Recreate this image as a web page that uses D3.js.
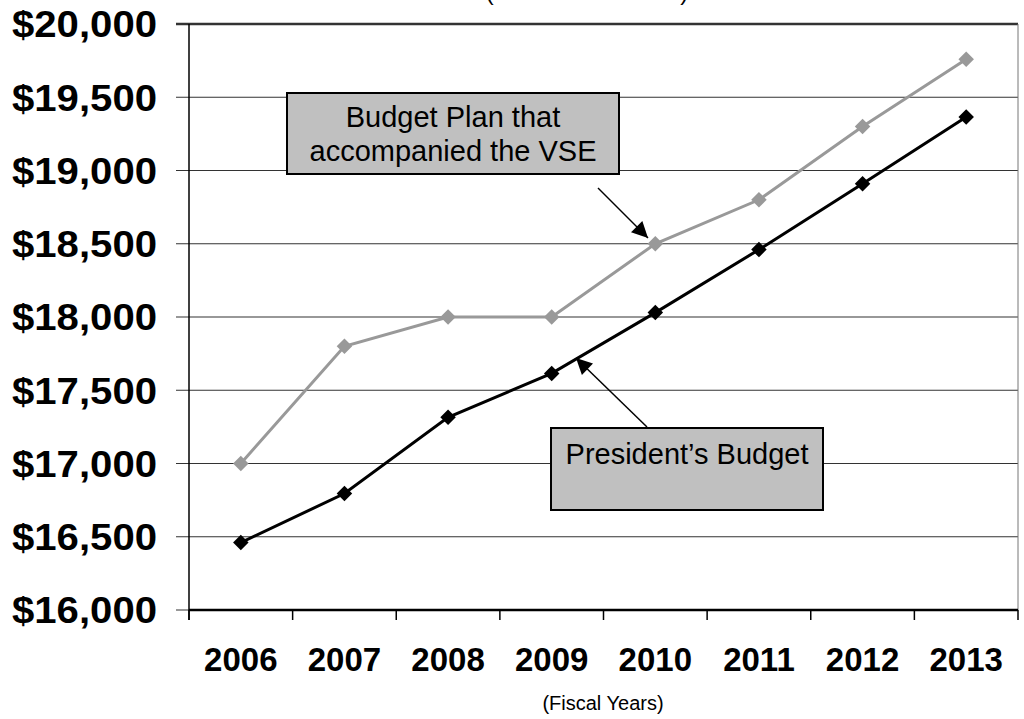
<!DOCTYPE html>
<html>
<head>
<meta charset="utf-8">
<script src="https://cdn.jsdelivr.net/npm/d3@7"></script>
<style>
  body { margin: 0; background: #fff; }
  text { font-family: "Liberation Sans", Arial, sans-serif; }
</style>
</head>
<body>
<div class="container"></div>
<script>
const years = ["2006", "2007", "2008", "2009", "2010", "2011", "2012", "2013"];
const presidentsBudget = [16460, 16795, 17315, 17615, 18030, 18460, 18910, 19365];
const vsePlan = [17000, 17800, 18000, 18000, 18500, 18800, 19300, 19760];
const yTicks = [16000, 16500, 17000, 17500, 18000, 18500, 19000, 19500, 20000];

const width = 1024;
const height = 719;
const margin = { top: 24, right: 6, bottom: 109, left: 189 };

const svg = d3.select(".container")
  .append("svg")
  .attr("width", width)
  .attr("height", height);

const x = d3.scaleBand()
  .domain(years)
  .range([margin.left, width - margin.right]);

const y = d3.scaleLinear()
  .domain([16000, 20000])
  .range([height - margin.bottom, margin.top]);

// units line, cut off at the top edge as in the original
svg.append("text")
  .attr("x", 587)
  .attr("y", 0)
  .attr("text-anchor", "middle")
  .attr("font-size", 24)
  .text("(Dollars in Millions)");

// gridlines + left ticks
svg.append("g")
  .selectAll("line")
  .data(yTicks)
  .join("line")
  .attr("x1", margin.left - 13)
  .attr("x2", width - margin.right)
  .attr("y1", d => y(d))
  .attr("y2", d => y(d))
  .attr("stroke", "#333")
  .attr("stroke-width", d => d === 20000 ? 2.5 : 1.2);

// right border
svg.append("line")
  .attr("x1", width - margin.right).attr("x2", width - margin.right)
  .attr("y1", y(20000)).attr("y2", y(16000))
  .attr("stroke", "#777").attr("stroke-width", 1);

// y labels
svg.append("g")
  .selectAll("text")
  .data(yTicks)
  .join("text")
  .attr("x", 157)
  .attr("y", d => y(d))
  .attr("dy", "0.36em")
  .attr("text-anchor", "end")
  .attr("font-size", 37)
  .attr("font-weight", "bold")
  .attr("textLength", 145)
  .attr("lengthAdjust", "spacingAndGlyphs")
  .text(d => "$" + d3.format(",")(d));

// x axis
const xAxis = svg.append("g")
  .attr("transform", `translate(0,${y(16000)})`);
xAxis.append("line")
  .attr("x1", margin.left).attr("x2", width - margin.right)
  .attr("stroke", "#000").attr("stroke-width", 2.5);
xAxis.selectAll(".tk")
  .data(years.map(d => x(d)).concat([width - margin.right]))
  .join("line")
  .attr("class", "tk")
  .attr("x1", d => d).attr("x2", d => d)
  .attr("y1", 0).attr("y2", 10)
  .attr("stroke", "#000").attr("stroke-width", 1.5);
xAxis.selectAll("text")
  .data(years)
  .join("text")
  .attr("x", d => x(d) + x.bandwidth() / 2)
  .attr("y", 61)
  .attr("text-anchor", "middle")
  .attr("font-size", 33)
  .attr("font-weight", "bold")
  .text(d => d);

// y axis line
svg.append("line")
  .attr("x1", margin.left).attr("x2", margin.left)
  .attr("y1", y(20000)).attr("y2", y(16000) + 10)
  .attr("stroke", "#000").attr("stroke-width", 1.5);

svg.append("text")
  .attr("x", 603)
  .attr("y", 710)
  .attr("text-anchor", "middle")
  .attr("font-size", 20)
  .text("(Fiscal Years)");

// lines
const cx = i => x(years[i]) + x.bandwidth() / 2;
const line = d3.line().x((d, i) => cx(i)).y(d => y(d));
const diamond = d3.symbol(d3.symbolSquare, 120);

function drawSeries(values, color) {
  svg.append("path")
    .datum(values)
    .attr("fill", "none")
    .attr("stroke", color)
    .attr("stroke-width", 3)
    .attr("d", line);
  svg.append("g")
    .selectAll("path")
    .data(values)
    .join("path")
    .attr("d", diamond)
    .attr("transform", (d, i) => `translate(${cx(i)},${y(d)}) rotate(45)`)
    .attr("fill", color);
}
drawSeries(vsePlan, "#999999");
drawSeries(presidentsBudget, "#000000");

// arrows
svg.append("defs").append("marker")
  .attr("id", "arrow")
  .attr("viewBox", "0 0 10 10")
  .attr("refX", 10).attr("refY", 5)
  .attr("markerWidth", 18).attr("markerHeight", 16)
  .attr("markerUnits", "userSpaceOnUse")
  .attr("orient", "auto")
  .append("path")
  .attr("d", "M0,0L10,5L0,10z")
  .attr("fill", "#000");

function arrow(x1, y1, x2, y2) {
  svg.append("line")
    .attr("x1", x1).attr("y1", y1).attr("x2", x2).attr("y2", y2)
    .attr("stroke", "#000").attr("stroke-width", 1.5)
    .attr("marker-end", "url(#arrow)");
}
arrow(598, 188, 648, 238);
arrow(647, 427, 576, 358);

// callout boxes
function callout(bx, by, bw, bh, lines, baseline0) {
  const g = svg.append("g");
  g.append("rect")
    .attr("x", bx).attr("y", by).attr("width", bw).attr("height", bh)
    .attr("fill", "#c0c0c0").attr("stroke", "#000").attr("stroke-width", 2);
  g.selectAll("text")
    .data(lines)
    .join("text")
    .attr("x", bx + bw / 2)
    .attr("y", (d, i) => baseline0 + i * 34)
    .attr("text-anchor", "middle")
    .attr("font-size", 29)
    .text(d => d);
}
callout(287, 93, 332, 81, ["Budget Plan that", "accompanied the VSE"], 127);
callout(551, 428, 272, 82, ["President\u2019s Budget"], 464);
</script>
</body>
</html>
